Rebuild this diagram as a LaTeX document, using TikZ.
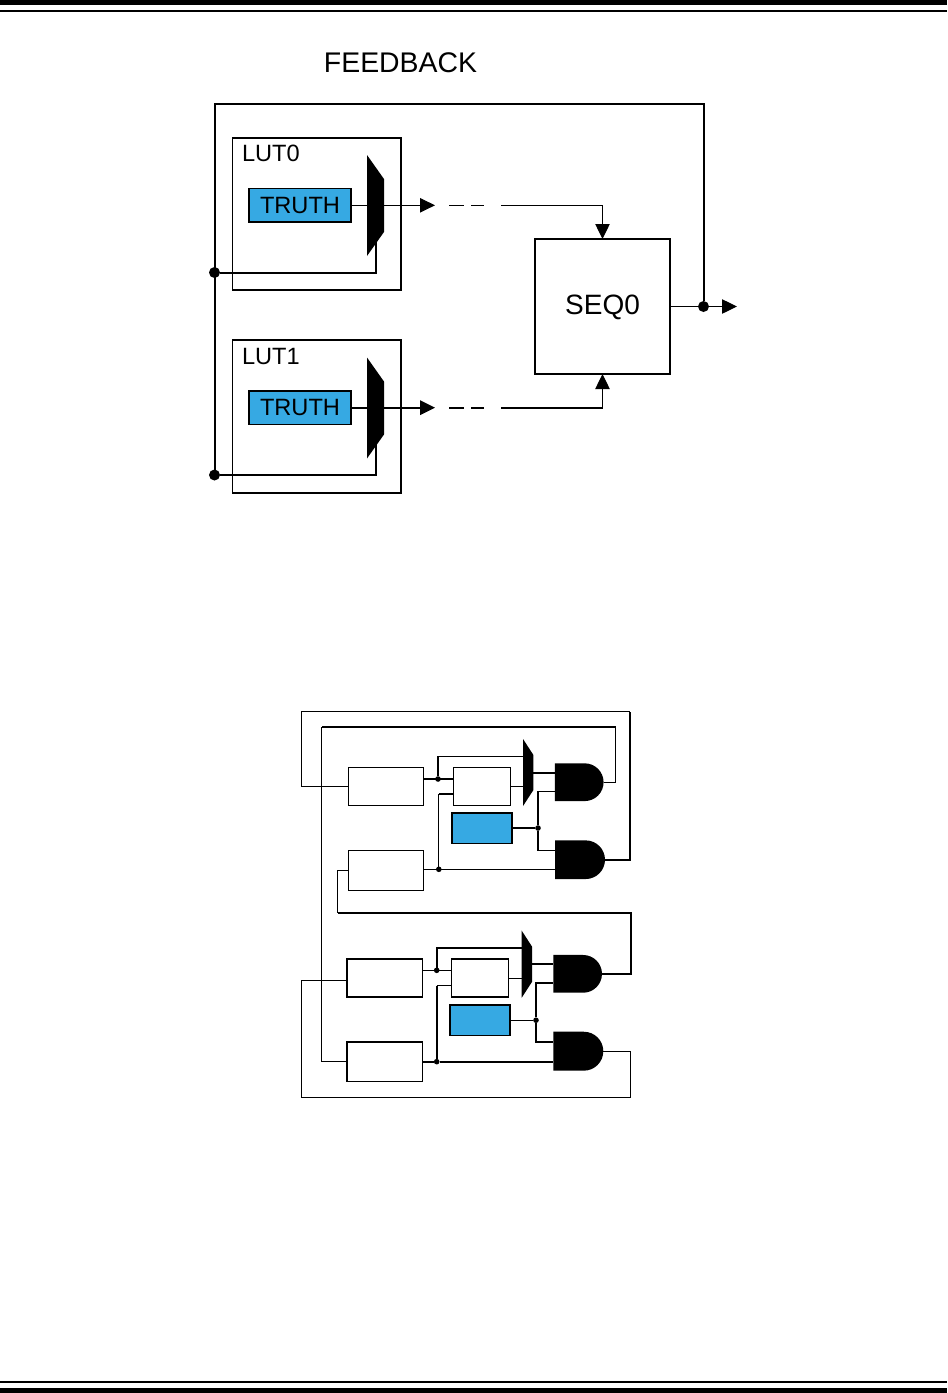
\documentclass[tikz,border=0pt]{standalone}
\usepackage{fontspec}
\setmainfont{Liberation Sans}
\usetikzlibrary{arrows.meta,calc,positioning,shapes.misc}
\definecolor{truthblue}{HTML}{36A9E3}
\tikzset{
  box node/.style={draw,line width=1.2pt,inner sep=0pt,outer sep=0pt},
  lut node/.style={box node,minimum width=126.4pt,minimum height=114.4pt},
  truth node/.style={box node,fill=truthblue,minimum width=76.5pt,minimum height=25pt,
    font=\fontsize{17.7pt}{20pt}\selectfont},
  seq node/.style={box node,minimum width=101.25pt,minimum height=101.25pt,text depth=2.7pt,
    font=\fontsize{21pt}{24pt}\selectfont},
  reg node/.style={box node,minimum width=56.25pt,minimum height=28.5pt},
  cell node/.style={box node,minimum width=42.75pt,minimum height=28.5pt},
  blue node/.style={box node,fill=truthblue,minimum width=45pt,minimum height=23pt},
  mux node/.style={inner sep=0pt,outer sep=0pt,path picture={
    \fill (path picture bounding box.north west)
      -- ($(path picture bounding box.north east)!0.238!(path picture bounding box.south east)$)
      -- ($(path picture bounding box.north east)!0.762!(path picture bounding box.south east)$)
      -- (path picture bounding box.south west) -- cycle;}},
  gate node/.style={rounded rectangle,rounded rectangle left arc=none,fill=black,
    inner sep=0pt,outer sep=0pt,minimum width=36.5pt,minimum height=28.3pt},
  big dot/.style={circle,fill=black,inner sep=0pt,outer sep=0pt,minimum size=8.25pt},
  small dot/.style={circle,fill=black,inner sep=0pt,outer sep=0pt,minimum size=4.2pt},
  lut label/.style={inner sep=0pt,font=\fontsize{17.7pt}{20pt}\selectfont},
  thin wire/.style={line width=0.8pt},
  thick wire/.style={line width=1.5pt},
  tip wire/.style={-{Triangle[length=11.25pt,width=10.8pt]}},
}
\begin{document}
\begin{tikzpicture}[x=0.75pt,y=-0.75pt]
  \useasboundingbox (0,0) rectangle (947,1393);
  % Page rules
  \fill (0,0) rectangle (947,5);
  \fill (0,10) rectangle (947,12);
  \fill (0,1381) rectangle (947,1383);
  \fill (0,1388) rectangle (947,1393);

  % Feedback figure
  \node[font=\fontsize{21.3pt}{24pt}\selectfont,inner sep=0pt] (title) at (400.5,63) {FEEDBACK};
  \node[lut node] (lut0) at (316.75,214) {};
  \node[lut node,below=37.5pt of lut0] (lut1) {};
  \node[lut label,below right=5.6pt and 7pt of lut0.north west] (lab0) {LUT0};
  \node[lut label,below right=5.6pt and 7pt of lut1.north west] (lab1) {LUT1};
  \node[truth node] (truth0) at (300,205.3) {TRUTH};
  \node[truth node] (truth1) at (300,407.7) {TRUTH};
  \node[seq node] (seq) at (602.5,306.5) {SEQ0};
  \node[big dot] (dotA) at (214.5,272.5) {};
  \node[big dot] (dotB) at (214.5,475) {};
  \node[big dot] (dotC) at (703.5,0 |- seq.east) {};
  \coordinate (cnrT) at (214.5,104);
  \coordinate (tipA) at (435,0 |- truth0.east);
  \coordinate (tipB) at (435,0 |- truth1.east);
  \coordinate (tipC) at (737,0 |- seq.east);
  \coordinate (dashA) at (449,0 |- truth0.east);
  \coordinate (dashB) at (449,0 |- truth1.east);
  \coordinate (contA) at (501,0 |- truth0.east);
  \coordinate (contB) at (501,0 |- truth1.east);

  \node[minimum width=12.75pt,minimum height=75.75pt,mux node] (mux0) at (375.5,205.5) {};
  \node[minimum width=12.75pt,minimum height=75.75pt,mux node] (mux1) at (375.5,408) {};
  \draw[thick wire] (dotA) -| (mux0.center);
  \draw[thick wire] (dotB) -| (mux1.center);
  \draw[thin wire,tip wire] (truth0.east) -- (tipA);
  \draw[thick wire,tip wire] (truth1.east) -- (tipB);
  \draw[thin wire,dash pattern=on 11.25pt off 5.25pt on 9.75pt off 20pt] (dashA) -- (contA);
  \draw[thick wire,dash pattern=on 11.25pt off 5.25pt on 9.75pt off 20pt] (dashB) -- (contB);
  \draw[thin wire,tip wire] (contA) -| (seq.north);
  \draw[thick wire] (contB) -- (contB -| seq.south);
  \draw[thin wire,tip wire] (contB -| seq.south) -- (seq.south);
  \draw[thin wire] (seq.east) -- (dotC);
  \draw[thin wire,tip wire] (dotC) -- (tipC);
  \draw[thick wire] (dotC) |- (cnrT) -- (dotB);

  % Upper latch
  \node[reg node] (regA) at (385.8,786.3) {};
  \node[cell node,right=22.5pt of regA] (regB) {};
  \node[reg node,below=33.75pt of regA,minimum height=30pt] (regC) {};
  \node[blue node,below=5.55pt of regB] (blueA) {};
  \node[minimum width=7.75pt,minimum height=50.25pt,mux node] (muxA) at (528.2,772.5) {};
  \node[gate node] (andA) at (579.25,782.2) {};
  \node[gate node,minimum width=37.5pt,minimum height=29pt] (andB) at (580,859.7) {};
  \node[small dot] (jA) at (438,779) {};
  \node[small dot] (jB) at (438.8,869.3) {};
  \node[small dot] (jC) at (538,0 |- blueA.east) {};
  \coordinate (pinB) at ([yshift=-5.8pt]regB.west);
  \draw[thick wire] (regA.east |- jA) -- (regB.west |- jA);
  \draw[thin wire] (jA) |- ([yshift=12.15pt]muxA.west);
  \draw[thin wire] (regC.east |- jB) -- (andB.west |- jB);
  \draw[thin wire] (jB) -- (jB |- pinB);
  \draw[thick wire] (jB |- pinB) -- (pinB);
  \draw[thin wire] (regB.east) -- (regB.east -| muxA.west);
  \draw[thick wire] (muxA.east) -- (muxA.east -| andA.west);
  \draw[thick wire] (blueA.east) -- (jC);
  \draw[thin wire] (jC) |- ([yshift=-6.8pt]andA.west);
  \draw[thin wire] (jC) |- ([yshift=7pt]andB.west);

  % Lower latch
  \node[reg node,minimum width=56.7pt] (regE) at (384.5,978.2) {};
  \node[cell node,right=22pt of regE] (regF) {};
  \node[reg node,minimum width=56.7pt,minimum height=29.7pt,below=33.5pt of regE] (regG) {};
  \node[blue node,below=5.75pt of regF] (blueB) {};
  \node[minimum width=7.75pt,minimum height=50.25pt,mux node] (muxB) at (526.9,964.2) {};
  \node[gate node] (andC) at (577.65,973.85) {};
  \node[gate node,minimum width=37.5pt,minimum height=29.2pt] (andD) at (578.3,1051.2) {};
  \node[small dot] (jD) at (436.7,970.3) {};
  \node[small dot] (jE) at (436.7,0 |- regG.east) {};
  \node[small dot] (jF) at (536,0 |- blueB.east) {};
  \coordinate (pinF) at ([yshift=-5.65pt]regF.west);
  \draw[thin wire] (regE.east |- jD) -- (regF.west |- jD);
  \draw[thick wire] (jD) |- ([yshift=12.15pt]muxB.west);
  \draw[thick wire] (regG.east) -- (jE) -- (jE -| andD.west);
  \draw[thick wire] (jE) -- (jE |- pinF);
  \draw[thin wire] (jE |- pinF) -- (pinF);
  \draw[thin wire] (regF.east) -- (regF.east -| muxB.west);
  \draw[thick wire] (muxB.east) -- (muxB.east -| andC.west);
  \draw[thin wire] (blueB.east) -- (jF);
  \draw[thick wire] (jF) |- ([yshift=-6.9pt]andC.west);
  \draw[thick wire] (jF) |- ([yshift=6.9pt]andD.west);

  % Cross-coupled loops
  \coordinate (cnrA) at (301.5,711.5);
  \coordinate (cnrB) at (630,711.5);
  \coordinate (cnrC) at (321.5,727);
  \coordinate (cnrD) at (615.5,727);
  \coordinate (cnrE) at (337.7,912.7);
  \coordinate (cnrF) at (631,912.7);
  \coordinate (cnrG) at (630.3,1097.3);
  \coordinate (cnrH) at (301.3,1097.3);
  \draw[thin wire] (regA.west) -| (cnrA) -- (cnrB);
  \draw[thick wire] (andB.east) -| (cnrB);
  \draw[thin wire] (andA.east) -| (cnrD);
  \draw[thick wire] (cnrD) -- (cnrC);
  \draw[thin wire] (cnrC) |- (regG.west);
  \draw[thin wire] (regC.west) -| (cnrE);
  \draw[thick wire] (cnrE) -- (cnrF) |- (andC.east);
  \draw[thin wire] (andD.east) -| (cnrG) -- (cnrH) |- ([yshift=-1.5pt]regE.west);
\end{tikzpicture}
\end{document}
